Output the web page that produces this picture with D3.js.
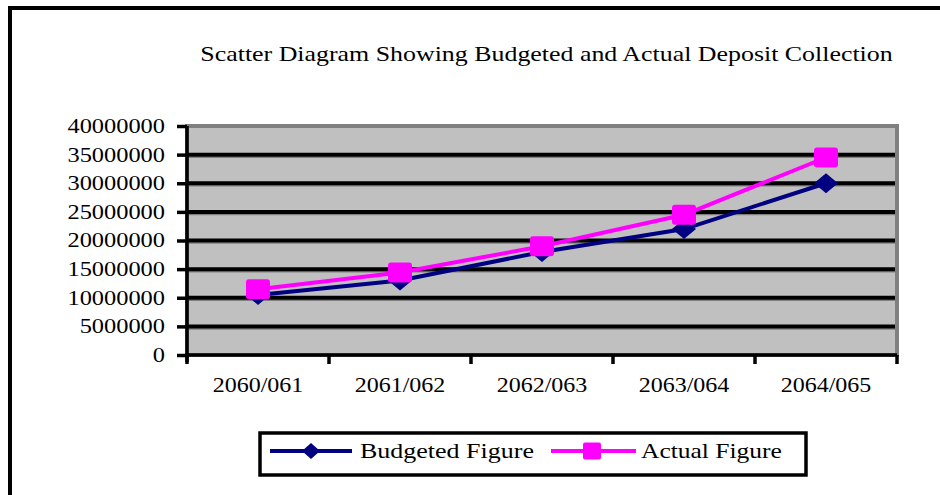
<!DOCTYPE html>
<html><head><meta charset="utf-8">
<script src="https://cdn.jsdelivr.net/npm/d3@7"></script>
<style>
html,body{margin:0;padding:0;background:#fff;}
svg{display:block;font-family:"Liberation Serif","Times New Roman",serif;}
</style></head>
<body>
<svg id="chart" width="940" height="495"></svg>
<script>
const categories = ["2060/061", "2061/062", "2062/063", "2063/064", "2064/065"];
const budgeted = [10500000, 13000000, 18000000, 22000000, 30000000];
const actual = [11500000, 14400000, 19000000, 24500000, 34500000];
const yTicks = [0, 5000000, 10000000, 15000000, 20000000, 25000000, 30000000, 35000000, 40000000];
const seriesNames = ["Budgeted Figure", "Actual Figure"];
const title = "Scatter Diagram Showing Budgeted and Actual Deposit Collection";

const svg = d3.select("#chart");
const L = 187, R = 897, T = 126, B = 355;

// stretch glyphs horizontally: factor k, or target width
function stretchK(sel, k) {
  sel.each(function() {
    const s = d3.select(this);
    const x0 = +(s.attr("x") || 0);
    s.attr("x", x0 / k).attr("transform", `scale(${k},1)`);
  });
}
function stretchTo(sel, target) {
  sel.each(function() {
    const w = this.getComputedTextLength();
    stretchK(d3.select(this), target / w);
  });
}

// outer border (only top and left visible)
svg.append("rect").attr("x", 10).attr("y", 8).attr("width", 1200).attr("height", 1200)
  .attr("fill", "none").attr("stroke", "#000").attr("stroke-width", 4);

// title
svg.append("text").attr("x", 546.5).attr("y", 61).attr("text-anchor", "middle")
  .attr("font-size", 20).attr("fill", "#000").text(title).call(stretchTo, 693);

const x = d3.scaleBand().domain(categories).range([L, R]).padding(0);
const y = d3.scaleLinear().domain([0, 40000000]).range([B, T]);

// plot area
svg.append("rect").attr("x", L).attr("y", T).attr("width", R - L).attr("height", B - T)
  .attr("fill", "#C0C0C0").attr("stroke", "#808080").attr("stroke-width", 4);

// gridlines
const gridVals = yTicks.filter(v => v > 0 && v < 40000000);
svg.append("g").selectAll("line").data(gridVals).join("line")
  .attr("x1", L).attr("x2", R - 2).attr("y1", d => y(d) + 2.5).attr("y2", d => y(d) + 2.5)
  .attr("stroke", "#808080").attr("stroke-width", 1.5);
svg.append("g").selectAll("line").data(gridVals).join("line")
  .attr("x1", L).attr("x2", R - 2).attr("y1", d => y(d)).attr("y2", d => y(d))
  .attr("stroke", "#000").attr("stroke-width", 4);

// y axis
const yAxis = svg.append("g").attr("transform", `translate(${L},0)`)
  .call(d3.axisLeft(y).tickValues(yTicks).tickFormat(d3.format("d")).tickSize(10).tickPadding(12));
yAxis.select(".domain").attr("stroke", "#000").attr("stroke-width", 3.5).attr("d", `M0,${T}V${B + 7}`);
yAxis.selectAll(".tick line").attr("stroke", "#000").attr("stroke-width", 3.5);
yAxis.selectAll(".tick text").attr("font-size", 20).attr("font-family", '"Liberation Serif","Times New Roman",serif')
  .attr("fill", "#000").attr("dy", "0.32em").call(stretchK, 1.22);

// x axis
const xAxis = svg.append("g").attr("transform", `translate(0,${B})`)
  .call(d3.axisBottom(x).tickSize(0).tickPadding(0));
xAxis.select(".domain").attr("stroke", "#000").attr("stroke-width", 3.5).attr("d", `M${L},0H${R}`);
xAxis.selectAll(".tick text").attr("font-size", 20).attr("font-family", '"Liberation Serif","Times New Roman",serif')
  .attr("fill", "#000").attr("y", 37).attr("dy", 0).call(stretchK, 1.2);
const edges = categories.map(c => x(c)).concat([x(categories[categories.length - 1]) + x.bandwidth()]);
xAxis.selectAll("line.edge").data(edges).join("line").attr("class", "edge")
  .attr("x1", d => d).attr("x2", d => d).attr("y1", 0).attr("y2", 9)
  .attr("stroke", "#000").attr("stroke-width", 3.5);

// series
const cx = c => x(c) + x.bandwidth() / 2;
const line = d3.line().x(d => cx(d.c)).y(d => y(d.v));
const bData = categories.map((c, i) => ({c, v: budgeted[i]}));
const aData = categories.map((c, i) => ({c, v: actual[i]}));
const navy = "#000080", pink = "#FF00FF";

function diamond(w, h) { return `M0,${-h/2}L${w/2},0L0,${h/2}L${-w/2},0Z`; }

svg.append("path").datum(bData).attr("d", line).attr("fill", "none").attr("stroke", navy).attr("stroke-width", 4);
svg.append("g").selectAll("path").data(bData).join("path")
  .attr("transform", d => `translate(${cx(d.c)},${y(d.v)})`).attr("d", diamond(24, 20)).attr("fill", navy);

svg.append("path").datum(aData).attr("d", line).attr("fill", "none").attr("stroke", pink).attr("stroke-width", 4);
svg.append("g").selectAll("rect").data(aData).join("rect")
  .attr("x", d => cx(d.c) - 12).attr("y", d => y(d.v) - 10).attr("width", 24).attr("height", 20)
  .attr("rx", 3).attr("fill", pink);

// legend
const lg = svg.append("g");
lg.append("rect").attr("x", 260).attr("y", 433).attr("width", 546).attr("height", 42)
  .attr("fill", "#fff").attr("stroke", "#000").attr("stroke-width", 3.5);
const ly = 451;
lg.append("line").attr("x1", 270).attr("x2", 352).attr("y1", ly).attr("y2", ly).attr("stroke", navy).attr("stroke-width", 4);
lg.append("path").attr("transform", `translate(311,${ly})`).attr("d", diamond(18, 16)).attr("fill", navy);
lg.append("text").attr("x", 360).attr("y", 458).attr("font-size", 20).attr("fill", "#000")
  .text(seriesNames[0]).call(stretchTo, 174);
lg.append("line").attr("x1", 551).attr("x2", 636).attr("y1", ly).attr("y2", ly).attr("stroke", pink).attr("stroke-width", 4);
lg.append("rect").attr("x", 592 - 9).attr("y", ly - 8.5).attr("width", 18).attr("height", 17).attr("rx", 2).attr("fill", pink);
lg.append("text").attr("x", 641).attr("y", 458).attr("font-size", 20).attr("fill", "#000")
  .text(seriesNames[1]).call(stretchTo, 141);
</script>
</body></html>
